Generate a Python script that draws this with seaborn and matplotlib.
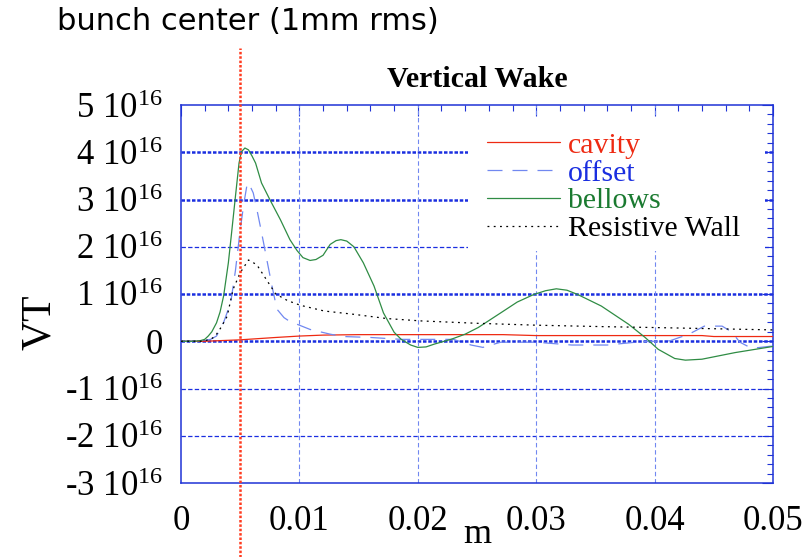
import numpy as np
import pandas as pd
import matplotlib
matplotlib.use("Agg")
import matplotlib.pyplot as plt
import seaborn as sns
from matplotlib.ticker import MultipleLocator, FixedLocator, FuncFormatter
from matplotlib.patches import Rectangle

# ---------------- data (VT in units of 1e16, x in m) ----------------
bellows_x = [0, 0.0010, 0.0016, 0.0020, 0.0023, 0.0026, 0.0030, 0.0033, 0.0036, 0.0040,
             0.0043, 0.0046, 0.0049, 0.0051, 0.0054, 0.0057, 0.0060, 0.0063, 0.0068, 0.0075,
             0.0084, 0.0092, 0.0098, 0.0103, 0.0109, 0.0114, 0.0120, 0.0126, 0.0131, 0.0135,
             0.0140, 0.0146, 0.0154, 0.0163, 0.0171, 0.0180, 0.0186, 0.0194, 0.0200, 0.0207,
             0.0214, 0.0228, 0.0240, 0.0251, 0.0270, 0.0284, 0.0298, 0.0308, 0.0317, 0.0326,
             0.0335, 0.0355, 0.0378, 0.0392, 0.0403, 0.0417, 0.0426, 0.0440, 0.0468, 0.0500]
bellows_vt = [0, 0, 0.01, 0.04, 0.11, 0.20, 0.39, 0.62, 0.96, 1.66,
              2.36, 3.07, 3.77, 4.01, 4.09, 4.05, 3.92, 3.77, 3.35, 3.00,
              2.57, 2.15, 1.92, 1.77, 1.71, 1.73, 1.82, 2.05, 2.13, 2.15,
              2.12, 2.00, 1.66, 1.17, 0.60, 0.19, 0.04, -0.08, -0.13, -0.12,
              -0.06, 0.04, 0.15, 0.29, 0.60, 0.83, 0.99, 1.07, 1.11, 1.08,
              0.99, 0.745, 0.36, 0.08, -0.17, -0.365, -0.40, -0.38, -0.24, -0.11]

offset_x = [0, 0.0015, 0.0025, 0.0030, 0.0036, 0.0042, 0.0046, 0.0050, 0.0053, 0.0056,
            0.0058, 0.0061, 0.0064, 0.0067, 0.0070, 0.0073, 0.0077, 0.0081, 0.0087, 0.0093,
            0.0098, 0.0109, 0.0126, 0.0137, 0.0160, 0.0186, 0.0230, 0.0245, 0.0255, 0.0270,
            0.0300, 0.0330, 0.0360, 0.0388, 0.0413, 0.0429, 0.0442, 0.0457, 0.0465, 0.0472,
            0.0482, 0.0500]
offset_vt = [0, 0, 0.04, 0.11, 0.40, 0.82, 1.50, 2.36, 2.90, 3.35,
             3.30, 3.14, 2.80, 2.43, 2.05, 1.66, 1.15, 0.68, 0.50, 0.40,
             0.36, 0.25, 0.15, 0.10, 0.08, 0.04, 0.04, -0.08, -0.13, -0.02,
             -0.02, -0.08, -0.08, -0.01, 0.01, 0.15, 0.32, 0.32, 0.20, -0.02,
             -0.15, -0.10]

cavity_x = [0, 0.0020, 0.0050, 0.0080, 0.0100, 0.0120, 0.0150, 0.0185, 0.0272, 0.0300,
            0.0350, 0.0440, 0.0450, 0.0500]
cavity_vt = [0, 0, 0.03, 0.08, 0.11, 0.13, 0.14, 0.14, 0.14, 0.12,
             0.12, 0.12, 0.10, 0.10]

wall_x = [0, 0.0018, 0.0025, 0.0029, 0.0034, 0.0039, 0.0044, 0.0050, 0.0057, 0.0064,
          0.0073, 0.0080, 0.0090, 0.0101, 0.0121, 0.0146, 0.0174, 0.0203, 0.0250, 0.0300,
          0.0355, 0.0400, 0.0440, 0.0500]
wall_vt = [0, 0, 0.04, 0.11, 0.30, 0.53, 1.10, 1.45, 1.72, 1.62,
           1.27, 1.00, 0.86, 0.76, 0.64, 0.57, 0.48, 0.43, 0.38, 0.34,
           0.31, 0.29, 0.27, 0.24]

series_names = ["cavity", "offset", "bellows", "Resistive Wall"]
x_ticks = [0, 0.01, 0.02, 0.03, 0.04, 0.05]
x_tick_labels = ["0", "0.01", "0.02", "0.03", "0.04", "0.05"]
y_ticks = [-3, -2, -1, 0, 1, 2, 3, 4, 5]
bunch_center = 0.005
SCALE = 1e16

# ---------------- style ----------------
sns.set_style("white")
plt.rcParams["font.family"] = ["Liberation Serif", "DejaVu Serif"]
plt.rcParams["mathtext.fontset"] = "custom"
plt.rcParams["mathtext.rm"] = "Liberation Serif"
plt.rcParams["mathtext.it"] = "Liberation Serif:italic"
plt.rcParams["mathtext.bf"] = "Liberation Serif:bold"
plt.rcParams["text.color"] = "black"
plt.rcParams["axes.labelcolor"] = "black"
plt.rcParams["axes.titlecolor"] = "black"

AXBLUE = "#1f33d6"
GRIDBLUE = "#1a2ee0"
LIGHTBLUE = "#7188f0"
RED = "#ee2a12"
GREEN = "#2f8c44"

fig = plt.figure(figsize=(8.11, 5.57), dpi=100)
ax = fig.add_axes([181 / 811, 1 - 483 / 557, 592 / 811, 378 / 557])

# grid lines
for v in [4, 3, 1, 0]:
    ax.axhline(v * SCALE, color=GRIDBLUE, lw=1.8, linestyle=(0, (1.4, 0.7)), zorder=1)
for v in [2, -1, -2]:
    ax.axhline(v * SCALE, color=GRIDBLUE, lw=0.9, linestyle=(0, (3.5, 1.8)), zorder=1)
for v in x_ticks[1:-1]:
    ax.axvline(v, color=LIGHTBLUE, lw=0.8, linestyle=(0, (4, 2.5)), zorder=1)

# white box behind legend
ax.add_patch(Rectangle((0.485, 0.615), 0.501, 0.352, transform=ax.transAxes,
                       facecolor="white", edgecolor="none", zorder=1.5))

# curves
sns.lineplot(x=cavity_x, y=np.array(cavity_vt) * SCALE, ax=ax, color=RED, lw=0.9,
             label=series_names[0], zorder=3, sort=False, estimator=None)
sns.lineplot(x=offset_x, y=np.array(offset_vt) * SCALE, ax=ax, color=LIGHTBLUE, lw=0.9,
             linestyle=(0, (12, 8)), label=series_names[1], zorder=3, sort=False, estimator=None)
sns.lineplot(x=bellows_x, y=np.array(bellows_vt) * SCALE, ax=ax, color=GREEN, lw=0.9,
             label=series_names[2], zorder=3, sort=False, estimator=None)
sns.lineplot(x=wall_x, y=np.array(wall_vt) * SCALE, ax=ax, color="black", lw=0.9,
             linestyle=(0, (1.5, 3.5)), label=series_names[3], zorder=3, sort=False, estimator=None)

# bunch center marker (extends outside axes)
ax.axvline(bunch_center, ymin=-0.196, ymax=1.151, clip_on=False, color="#ff3b1f",
           lw=1.8, linestyle=(0, (1.0, 0.75)), zorder=6)

ax.set_xlim(0, 0.05)
ax.set_ylim(-3 * SCALE, 5 * SCALE)

ax.xaxis.set_major_locator(FixedLocator(x_ticks))
ax.xaxis.set_minor_locator(MultipleLocator(0.002))
ax.set_xticklabels(x_tick_labels)
ax.yaxis.set_major_locator(FixedLocator([v * SCALE for v in y_ticks]))
ax.yaxis.set_minor_locator(MultipleLocator(0.2 * SCALE))


def yfmt(val, pos):
    n = int(round(val / SCALE))
    if n == 0:
        return "0"
    return f"{n} 10$^{{\\mathregular{{16}}}}$"


ax.yaxis.set_major_formatter(FuncFormatter(yfmt))

ax.tick_params(which="both", direction="in", top=True, right=True, color=AXBLUE,
               width=0.8, labelsize=25, labelcolor="black")
ax.tick_params(which="major", length=8)
ax.tick_params(which="minor", length=4.3)
ax.tick_params(axis="y", which="major", pad=13)
ax.tick_params(axis="x", which="major", pad=16)
for s in ax.spines.values():
    s.set_color(AXBLUE)
    s.set_linewidth(1.1)
    s.set_visible(True)

ax.set_xlabel("m", fontsize=26, color="black")
ax.set_ylabel("VT", fontsize=30, color="black")
ax.xaxis.set_label_coords(0.5, -0.092)
ax.yaxis.set_label_coords(-0.206, 0.426)

ax.set_title("Vertical Wake", fontsize=21.5, fontweight="bold", pad=13, color="black")

leg_colors = [RED, GRIDBLUE, "#1a7a30", "black"]
leg = ax.legend(loc="upper left", bbox_to_anchor=(0.517, 0.929), frameon=False,
                fontsize=21.5, handlelength=2.45, handletextpad=0.27, labelspacing=0.03,
                borderpad=0, borderaxespad=0)
for t, c in zip(leg.get_texts(), leg_colors):
    t.set_color(c)
leg.set_zorder(4)

fig.text(57 / 811, 1 - 22 / 557, "bunch center (1mm rms)", family="DejaVu Sans",
         fontsize=22, ha="left", va="center", color="black")

fig.savefig("out.png", dpi=100)
